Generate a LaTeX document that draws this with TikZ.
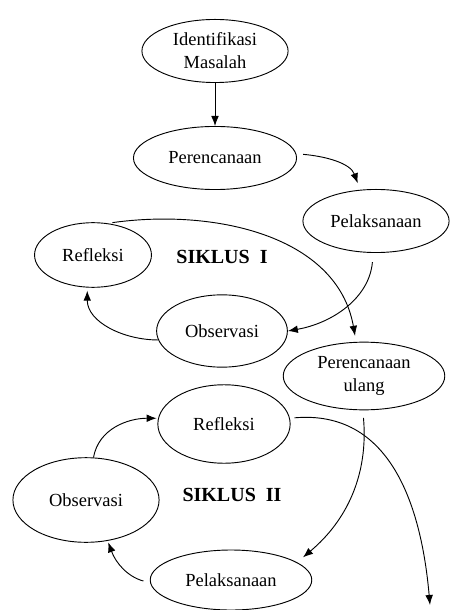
\documentclass[tikz,border=0pt]{standalone}
\usepackage{fontspec}
\setmainfont{Liberation Serif}
\usetikzlibrary{arrows.meta, positioning, shapes.geometric}

\begin{document}
\begin{tikzpicture}[x=0.65pt,y=-0.65pt,>={Latex[length=6.5pt,width=5pt]},line width=0.6pt]
    \tikzstyle{stage}=[shape=ellipse,draw,inner sep=0pt,align=center,font=\fontsize{12}{15}\selectfont]
    \tikzstyle{cycle}=[font=\fontsize{13}{15}\selectfont\bfseries]

    \useasboundingbox (0,0) rectangle (455,610);

    % awal
    \node[stage,minimum width=95pt,minimum height=41pt] (A1) at (215,51) {Identifikasi\\Masalah};
    \node[stage,minimum width=106pt,minimum height=41pt] (A2) at (215,158) {Perencanaan};

    % siklus I
    \node[stage,minimum width=95pt,minimum height=41pt] (B1) at (376,221) {Pelaksanaan};
    \node[stage,minimum width=85pt,minimum height=47pt] (B2) at (222,331) {Observasi};
    \node[stage,minimum width=76pt,minimum height=42pt] (B3) at (93,255) {Refleksi};
    \node[cycle] (S1) at (222,257) {SIKLUS\ \ I};

    % siklus II
    \node[stage,minimum width=105pt,minimum height=44pt] (C1) at (364,376) {Perencanaan\\ulang};
    \node[stage,minimum width=105pt,minimum height=39pt] (C2) at (231,580) {Pelaksanaan};
    \node[stage,minimum width=95pt,minimum height=55pt] (C3) at (86,500) {Observasi};
    \node[stage,minimum width=86pt,minimum height=51pt] (C4) at (224,424) {Refleksi};
    \node[cycle] (S2) at (232,495) {SIKLUS\ \ II};

    \coordinate (E) at (430,605);

    \path[->]
    (A1) edge (A2)
    (A2.3) edge[out=-5,in=110,shorten <=4.5pt,shorten >=4.5pt] (B1.117)
    (B1.265) edge[out=-95,in=10,shorten <=6pt] (B2.east)
    (B2.188) edge[out=180,in=-90,shorten >=2pt] (B3.260)
    (B3.65) edge[out=8,in=100,shorten <=3pt,shorten >=4pt] (C1.103)
    (C1.268) edge[out=-85,in=40,shorten <=5pt,shorten >=5pt] (C2.15)
    (C2.182) edge[out=165,in=-70,shorten <=4.5pt,shorten >=1pt] (C3.-62)
    (C3.80) edge[out=80,in=180,shorten >=1pt] (C4.175)
    (C4.5) edge[out=5,in=95,looseness=1.1,shorten <=3pt] (E)
    ;

\end{tikzpicture}
\end{document}
